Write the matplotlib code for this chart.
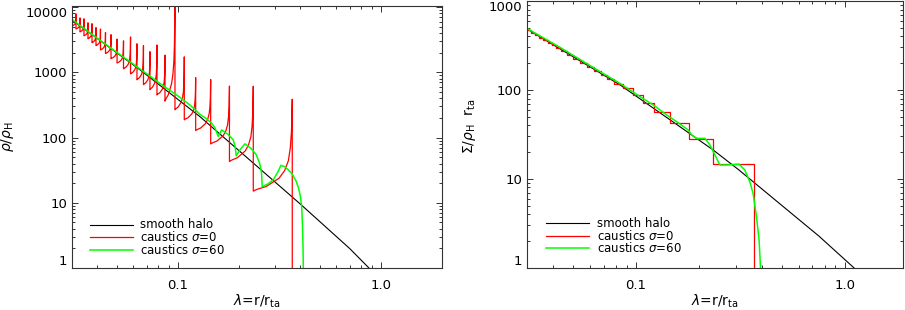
import numpy as np
import matplotlib
matplotlib.use("Agg")
import matplotlib.pyplot as plt
from matplotlib.ticker import FixedLocator, FixedFormatter, LogLocator, NullFormatter

# ---------------- data ----------------
lam_min = 0.03
# caustic radii lambda_n (same for both panels)
caustic_lam = [0.03139, 0.03285, 0.03437, 0.03597, 0.03764, 0.03939, 0.04145,
               0.04388, 0.04671, 0.05003, 0.05383, 0.05830, 0.06271, 0.06751,
               0.07268, 0.07870, 0.08620, 0.09654, 0.1073, 0.1221, 0.1448,
               0.1792, 0.2348, 0.3655]
# density at the spike of each caustic (sigma = 0)
rho_peak = [7870, 6832, 6619, 5749, 5569, 4853, 4619, 4069, 3779, 3235, 3037,
            3484, 2742, 2564, 2074, 2628, 1834, 30000, 1728, 830, 776, 615,
            612, 387]
# density just outside each caustic (after the drop)
rho_floor = [4634, 4171, 3636, 3269, 2850, 2573, 2203, 1941, 1621, 1388, 1131,
             945, 770, 648, 543, 451, 362, 267, 187, 128, 79.8, 42.9, 15.1, 0.5]
rho_start = 5135
# shape of the rise between two caustics, read from the outer caustics
profile_frac = [0, 0.1, 0.33, 0.66, 0.8, 0.9, 0.95, 0.98, 1.0]
profile_rise = [0, 0.02, 0.05, 0.14, 0.22, 0.33, 0.47, 0.65, 1.0]

# smooth halo density
black_lam = [0.03, 0.065, 0.128, 0.234, 0.40, 0.70, 0.873, 0.95]
black_rho = [6340, 1090, 210, 41, 9.6, 2.0, 1.0, 0.76]

# caustics sigma = 60 density
green_lam = [0.0300, 0.0412, 0.0579, 0.0727, 0.0814, 0.0912, 0.1022, 0.1145,
             0.1282, 0.1372, 0.1464, 0.1520, 0.1578, 0.1640, 0.1762, 0.1871,
             0.1907, 0.1936, 0.2019, 0.2137, 0.2288, 0.2421, 0.2519, 0.2576,
             0.2600, 0.2774, 0.2946, 0.3107, 0.3214, 0.3364, 0.3630, 0.3812,
             0.3922, 0.4012, 0.4067, 0.4104, 0.4128, 0.4146]
green_rho = [6457, 3112, 1453, 875, 676, 528, 413, 315, 227, 197, 166, 141, 104,
             131, 112, 92, 74.6, 52.5, 64.8, 80.1, 68.3, 55.3, 41, 29.8, 17.6,
             19.5, 22.5, 29.8, 37.5, 35.6, 28.5, 21.7, 17.0, 12.4, 8.68, 4.60,
             2.27, 0.88]

# surface density, caustics sigma = 0 (one level per shell between caustics)
sigma_level = [469, 440, 413, 387, 363, 341, 318, 295, 271, 247, 224, 201, 180,
               162, 146, 131, 116.5, 104, 87.6, 71.8, 57, 42.5, 28, 14.5]
sigma_end = 0.5

# smooth halo surface density
sig_black_lam = [0.0302, 0.0839, 0.234, 0.311, 0.751, 1.104, 1.2]
sig_black = [480, 113.5, 21.1, 12.56, 2.27, 1.0, 0.832]

# caustics sigma = 60 surface density
sig_green_lam = [0.0302, 0.0433, 0.0673, 0.0839, 0.1045, 0.1210, 0.1402, 0.1564,
                 0.1778, 0.1845, 0.1950, 0.2137, 0.2258, 0.2386, 0.2520, 0.2712,
                 0.3115, 0.3317, 0.3504, 0.3634, 0.3773, 0.3883, 0.3943, 0.396]
sig_green = [487, 300, 160, 118, 83.9, 67.6, 52.2, 43.9, 35.4, 31.1, 28.5, 28.5,
             24.0, 18.5, 14.3, 14.3, 14.6, 12.56, 9.28, 6.87, 3.75, 2.05, 1.026,
             0.8]

legend_labels = ["smooth halo", r"caustics $\sigma$=0", r"caustics $\sigma$=60"]
colors = ["black", "#ff0000", "#00ff00"]

# ---------------- build the sigma = 0 curves ----------------
red_x, red_y = [], []
prev_r, prev_f = lam_min, rho_start
for r, p, f in zip(caustic_lam, rho_peak, rho_floor):
    for fr, ri in zip(profile_frac, profile_rise):
        red_x.append(prev_r ** (1 - fr) * r ** fr)
        red_y.append(prev_f ** (1 - ri) * p ** ri)
    red_x.append(r)
    red_y.append(f)
    prev_r, prev_f = r, f

edges = [lam_min] + caustic_lam
sred_x, sred_y = [], []
for i, lev in enumerate(sigma_level):
    sred_x += [edges[i], edges[i + 1]]
    sred_y += [lev, lev]
sred_x.append(edges[-1])
sred_y.append(sigma_end)

# ---------------- figure ----------------
plt.rcParams["font.family"] = ["DejaVu Sans"]
plt.rcParams["mathtext.fontset"] = "dejavusans"
fig = plt.figure(figsize=(9.05, 3.10), dpi=100)
ax1 = fig.add_axes([72 / 905, 1 - 268 / 310, 370 / 905, 262 / 310])
ax2 = fig.add_axes([527 / 905, 1 - 267.7 / 310, 376 / 905, 266.7 / 310])

lw = 0.9
ax1.plot(black_lam, black_rho, color=colors[0], lw=0.8)
ax1.plot(red_x, red_y, color=colors[1], lw=lw)
ax1.plot(green_lam, green_rho, color=colors[2], lw=1.1)

ax2.plot(sig_black_lam, sig_black, color=colors[0], lw=0.8)
ax2.plot(sred_x, sred_y, color=colors[1], lw=lw)
ax2.plot(sig_green_lam, sig_green, color=colors[2], lw=1.1)

fs = 9.5
for ax, xmax, yticks, ylab in [
        (ax1, 2.0, [1, 10, 100, 1000, 10000], r"$\rho/\rho_{\rm H}$"),
        (ax2, 1.9, [1, 10, 100, 1000], r"$\Sigma/\rho_{\rm H}$  r$_{\rm ta}$")]:
    ax.set_xscale("log")
    ax.set_yscale("log")
    ax.set_xlim(lam_min, xmax)
    ax.set_ylim(1, 10400 if ax is ax1 else 1000)
    ax.xaxis.set_major_locator(FixedLocator([0.1, 1.0]))
    ax.xaxis.set_major_formatter(FixedFormatter(["0.1", "1.0"]))
    ax.xaxis.set_minor_locator(LogLocator(base=10, subs=np.arange(2, 10)))
    ax.xaxis.set_minor_formatter(NullFormatter())
    ax.yaxis.set_major_locator(FixedLocator(yticks))
    ax.yaxis.set_major_formatter(FixedFormatter([str(t) for t in yticks]))
    ax.yaxis.set_minor_locator(LogLocator(base=10, subs=np.arange(2, 10)))
    ax.yaxis.set_minor_formatter(NullFormatter())
    ax.tick_params(which="both", direction="in", top=True, right=True,
                   labelsize=fs, width=0.7, color="#333333")
    ax.tick_params(which="major", length=4.5)
    ax.tick_params(which="minor", length=2.2)
    ax.tick_params(axis="x", which="major", pad=8)
    ax.tick_params(axis="y", which="major", pad=3.5)
    for s in ax.spines.values():
        s.set_linewidth(0.8)
        s.set_color("#333333")
    ax.set_xlabel(r"$\lambda$=r/r$_{\rm ta}$", fontsize=10)
    ax.set_ylabel(ylab, fontsize=10)
    # IDL-like placement of the extreme tick labels
    ticks = ax.yaxis.get_major_ticks()
    ticks[0].label1.set_va("bottom")
    ticks[-1].label1.set_va("top")

ax1.xaxis.set_label_coords(0.5, -0.095)
ax2.xaxis.set_label_coords(0.5, -0.095)
ax1.yaxis.set_label_coords(-0.15, 0.5)
ax2.yaxis.set_label_coords(-0.13, 0.53)

# legends (drawn in axes coordinates)
lfs = 8.5
leg_pos = {
    ax1: dict(x0=0.0486, x1=0.165, xt=0.184, ys=[0.166, 0.1183, 0.0706]),
    ax2: dict(x0=0.0505, x1=0.1657, xt=0.1853, ys=[0.1669, 0.120, 0.0731]),
}
for ax, p in leg_pos.items():
    for lab, c, y, w in zip(legend_labels, colors, p["ys"], [0.8, lw, 1.1]):
        ax.plot([p["x0"], p["x1"]], [y, y], transform=ax.transAxes, color=c,
                lw=w, clip_on=False)
        ax.text(p["xt"], y, lab, transform=ax.transAxes, fontsize=lfs,
                va="center", ha="left")

fig.savefig("out.png", dpi=100)
